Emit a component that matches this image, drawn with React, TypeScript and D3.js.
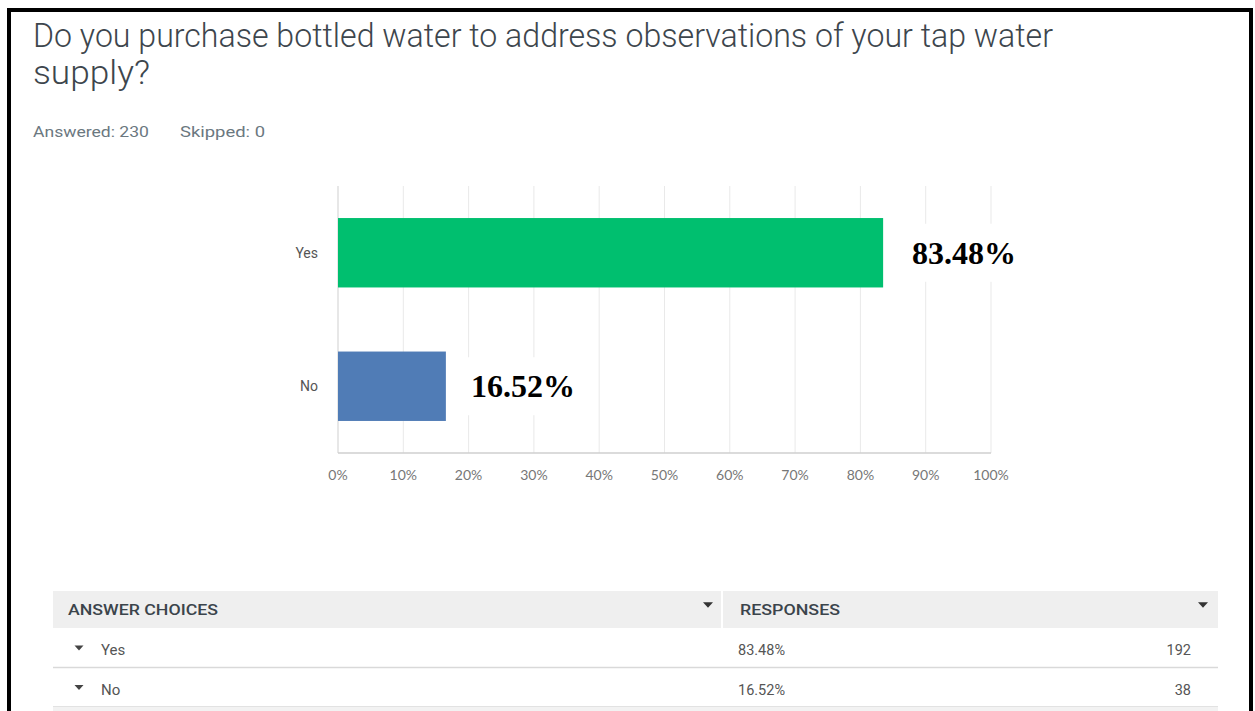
import React from "react";
import * as d3 from "d3";

const categories = ["Yes", "No"];
const percents = [83.48, 16.52];
const counts = [192, 38];
const percentLabels = ["83.48%", "16.52%"];
const tickValues = [0, 10, 20, 30, 40, 50, 60, 70, 80, 90, 100];
const tickLabels = ["0%", "10%", "20%", "30%", "40%", "50%", "60%", "70%", "80%", "90%", "100%"];
const barColors = ["#00bf6f", "#507cb6"];
const answered = 230;
const skipped = 0;

const W = 1255;
const H = 711;

export default function App() {
  const x = d3.scaleLinear().domain([0, 100]).range([338, 991]);
  const y = d3.scaleBand<string>().domain(categories).range([186, 453]).paddingInner(0.48).paddingOuter(0.24);
  const sans = "Roboto, 'Noto Sans', sans-serif";
  const labelOffsets = [29, 25];

  const tableLeft = 53;
  const tableRight = 1218;
  const colSplit = 722;
  const headerTop = 591;
  const headerBottom = 628;
  const rowH = 39.5;

  const tri = (cx: number, cy: number, s: number) =>
    `M${cx - s},${cy - s * 0.55} L${cx + s},${cy - s * 0.55} L${cx},${cy + s * 0.55} Z`;

  return (
    <svg width={W} height={H} style={{ position: "absolute", left: 0, top: 0, background: "#fff" }} fontFamily={sans}>
      <rect x={0} y={0} width={W} height={H} fill="#fff" />
      {/* border */}
      <path d={`M9,${H + 5} L9,10 L1251,10 L1251,${H + 5}`} fill="none" stroke="#000" strokeWidth={4} />

      {/* title */}
      <text x={33} y={47} fontSize={33} fontWeight={300} fill="#3d464d" textLength={1020} lengthAdjust="spacingAndGlyphs">
        Do you purchase bottled water to address observations of your tap water
      </text>
      <text x={33} y={84} fontSize={33} fontWeight={300} fill="#3d464d" textLength={117} lengthAdjust="spacingAndGlyphs">
        supply?
      </text>
      <text x={33} y={137} fontSize={15} fill="#6b787f" textLength={116} lengthAdjust="spacingAndGlyphs">{`Answered: ${answered}`}</text>
      <text x={180} y={137} fontSize={15} fill="#6b787f" textLength={85} lengthAdjust="spacingAndGlyphs">{`Skipped: ${skipped}`}</text>

      {/* gridlines */}
      {tickValues.map((t) => (
        <line key={t} x1={x(t)} x2={x(t)} y1={186} y2={453} stroke={t === 0 ? "#cfcfcf" : "#e9e9e9"} strokeWidth={1} />
      ))}
      <line x1={x(0)} x2={x(100)} y1={453} y2={453} stroke="#cfcfcf" strokeWidth={1.5} />

      {/* bars */}
      {categories.map((c, i) => (
        <rect key={c} x={x(0)} y={y(c)} width={x(percents[i]) - x(0)} height={y.bandwidth()} fill={barColors[i]} />
      ))}

      {/* category labels */}
      {categories.map((c) => (
        <text key={c} x={318} y={(y(c) as number) + y.bandwidth() / 2} dy="0.35em" textAnchor="end" fontSize={14} fill="#555">
          {c}
        </text>
      ))}

      {/* tick labels */}
      {tickValues.map((t, i) => (
        <text key={t} x={x(t)} y={480} textAnchor="middle" fontSize={14} fill="#777" fontFamily="Lato, Roboto, sans-serif">
          {tickLabels[i]}
        </text>
      ))}

      {/* value labels */}
      {categories.map((c, i) => {
        const tx = x(percents[i]) + labelOffsets[i];
        const cy = (y(c) as number) + y.bandwidth() / 2;
        return (
          <g key={c}>
            <rect x={tx - 10} y={cy - 29} width={124} height={58} fill="#fff" />
            <text x={tx} y={cy + 11} fontSize={32} fontWeight={700} fill="#000" fontFamily="'Liberation Serif', 'Times New Roman', serif">
              {percentLabels[i]}
            </text>
          </g>
        );
      })}

      {/* table */}
      <rect x={tableLeft} y={headerTop} width={tableRight - tableLeft} height={headerBottom - headerTop} fill="#efefef" />
      <line x1={colSplit} x2={colSplit} y1={headerTop} y2={headerBottom} stroke="#fff" strokeWidth={2} />
      <text x={68} y={615} fontSize={15} fontWeight={500} fill="#3b444b" textLength={150} lengthAdjust="spacingAndGlyphs">ANSWER CHOICES</text>
      <path d={tri(708, 605, 5)} fill="#333" />
      <text x={740} y={615} fontSize={15} fontWeight={500} fill="#3b444b" textLength={100} lengthAdjust="spacingAndGlyphs">RESPONSES</text>
      <path d={tri(1203, 605, 5)} fill="#333" />

      {categories.map((c, i) => {
        const top = headerBottom + i * rowH;
        const base = top + 27;
        return (
          <g key={c}>
            <path d={tri(79, base - 7, 4.5)} fill="#444" />
            <text x={101} y={base} fontSize={15} fill="#555">{c}</text>
            <text x={738} y={base} fontSize={14.5} fill="#555">{`${percents[i].toFixed(2)}%`}</text>
            <text x={1191} y={base} fontSize={14.5} fill="#555" textAnchor="end">{counts[i]}</text>
            <line x1={tableLeft} x2={tableRight} y1={top + rowH} y2={top + rowH} stroke="#d9d9d9" strokeWidth={1.5} />
          </g>
        );
      })}
      <rect x={tableLeft} y={headerBottom + 2 * rowH} width={tableRight - tableLeft} height={10} fill="#f2f2f2" />
    </svg>
  );
}
